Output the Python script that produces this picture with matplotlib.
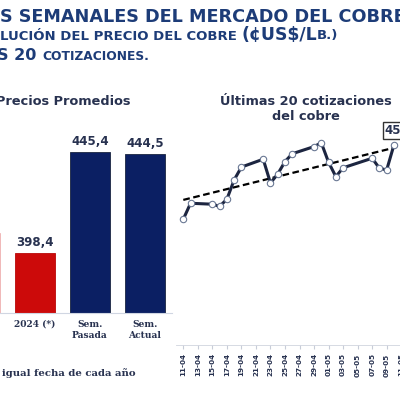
import numpy as np
import pandas as pd
import matplotlib
matplotlib.use('Agg')
import matplotlib.pyplot as plt

W, H = 400, 393

# barras: precios promedio (cUS$/lb)
bar_labels = ['2023 (*)', '2024 (*)', 'Sem.\nPasada', 'Sem.\nActual']
bar_values = [407.7, 398.4, 445.4, 444.5]
bar_colors = ['#cc0a0a', '#cc0a0a', '#0b1f63', '#0b1f63']
bar_edges = ['#f3c4c4', '#b80808', '#1a2540', '#1a2540']

# ultimas cotizaciones
dates = ['11-04', '12-04', '15-04', '16-04', '17-04', '18-04', '19-04', '22-04', '23-04',
         '24-04', '25-04', '26-04', '29-04', '30-04', '01-05', '02-05', '03-05', '07-05',
         '08-05', '09-05', '10-05']
prices = [419.8, 426.5, 426.1, 425.2, 428.2, 436.3, 441.7, 445.0, 435.0, 438.8, 444.0,
          447.3, 450.3, 451.9, 443.7, 437.7, 441.4, 445.4, 441.2, 440.5, 451.0]
tick_labels = ['11-04', '13-04', '15-04', '17-04', '19-04', '21-04', '23-04', '25-04',
               '27-04', '29-04', '01-05', '03-05', '05-05', '07-05', '09-05', '11-05']

NAVY = '#1d3c78'
DARK = '#283250'


def px(x, y):
    return x / W, 1 - y / H


fig = plt.figure(figsize=(4, 3.93), dpi=100)
fig.patch.set_facecolor('white')
renderer = fig.canvas.get_renderer()


def run_text(x, y, parts, color=NAVY):
    for s, size in parts:
        t = fig.text(*px(x, y), s, fontsize=size, fontweight='bold', color=color,
                     ha='left', va='baseline', family='DejaVu Sans')
        x += t.get_window_extent(renderer).width


# titulos
run_text(0, 21.5, [('S SEMANALES DEL MERCADO DEL COBRE', 12.7)])
run_text(0, 39.5, [('LUCIÓN DEL PRECIO DEL COBRE ', 9.5), ('(¢US$/L', 12.4), ('B.)', 9.5)])
run_text(-3, 60.5, [('S 20 ', 11.5), ('COTIZACIONES.', 8.8)])

fig.text(*px(-4, 105), 'Precios Promedios', fontsize=9.3, fontweight='bold', color=DARK,
         ha='left', va='baseline')
fig.text(*px(306, 105), 'Últimas 20 cotizaciones', fontsize=9.3, fontweight='bold',
         color=DARK, ha='center', va='baseline')
fig.text(*px(306, 120.5), 'del cobre', fontsize=9.3, fontweight='bold', color=DARK,
         ha='center', va='baseline')

# grafico de barras
base, k = 370.5, 2.149
top_px = 130
axb = fig.add_axes([-47.6 / W, (H - 313) / H, 220 / W, (313 - top_px) / H])
xb = np.arange(len(bar_values))
axb.bar(xb, bar_values, width=0.72, color=bar_colors, edgecolor=bar_edges, linewidth=0.6)
axb.set_xlim(-0.5, 3.5)
axb.set_ylim(base, base + (313 - top_px) / k)
for i, v in enumerate(bar_values):
    axb.text(i, v + 2.0, f'{v:.1f}'.replace('.', ','), ha='center', va='bottom',
             fontsize=8.5, fontweight='bold', color=DARK)
axb.set_xticks(xb)
axb.set_xticklabels(bar_labels, family='DejaVu Serif', fontweight='bold', fontsize=6.6,
                    color=DARK, linespacing=1.25)
axb.tick_params(axis='x', length=0, pad=5)
axb.set_yticks([])
for s in ['left', 'right', 'top']:
    axb.spines[s].set_visible(False)
axb.spines['bottom'].set_color('#d0d6e2')
axb.set_facecolor('none')

fig.text(*px(1.5, 376), 'igual fecha de cada año', family='DejaVu Serif', fontsize=7.3,
         fontweight='bold', color=DARK, ha='left', va='baseline')

# grafico de lineas
dt = pd.to_datetime([d + '-2024' for d in dates], format='%d-%m-%Y')
day = np.array((dt - dt[0]).days)
tdt = pd.to_datetime([d + '-2024' for d in tick_labels], format='%d-%m-%Y')
tday = np.array((tdt - dt[0]).days)

ppd = 7.264
axl = fig.add_axes([(183.3 - ppd) / W, (H - 345) / H, 36 * ppd / W, 245 / H])
axl.set_xlim(-1, 35)
axl.set_ylim(366.97, 469.87)

coef = np.polyfit(day, prices, 1)
xt = np.array([day[0], day[-1]])
axl.plot(xt, np.polyval(coef, xt), color='black', lw=1.6, dashes=(3, 1.6), zorder=2)
axl.plot(day, prices, color='#1c2540', lw=2.2, marker='o', ms=4.6, mfc='white',
         mec='#6a7894', mew=0.8, zorder=3)

axl.set_xticks(tday)
axl.set_xticklabels(tick_labels, rotation=90, fontsize=5.2, fontweight='bold', color=DARK)
axl.tick_params(axis='x', length=3, color='#c8cdd8', pad=3)
axl.set_yticks([])
for s in ['left', 'right', 'top']:
    axl.spines[s].set_visible(False)
axl.spines['bottom'].set_color('#d0d4de')
axl.spines['bottom'].set_linewidth(0.6)
axl.set_facecolor('none')

axl.text(day[-1] - 1.3, 457.0, f'{prices[-1]:.1f}'.replace('.', ','), fontsize=8.5,
         fontweight='bold', color=DARK, ha='left', va='center', clip_on=False,
         bbox=dict(boxstyle='square,pad=0.15', fc='white', ec='#333333', lw=1.0))

fig.savefig('out.png', dpi=100)
